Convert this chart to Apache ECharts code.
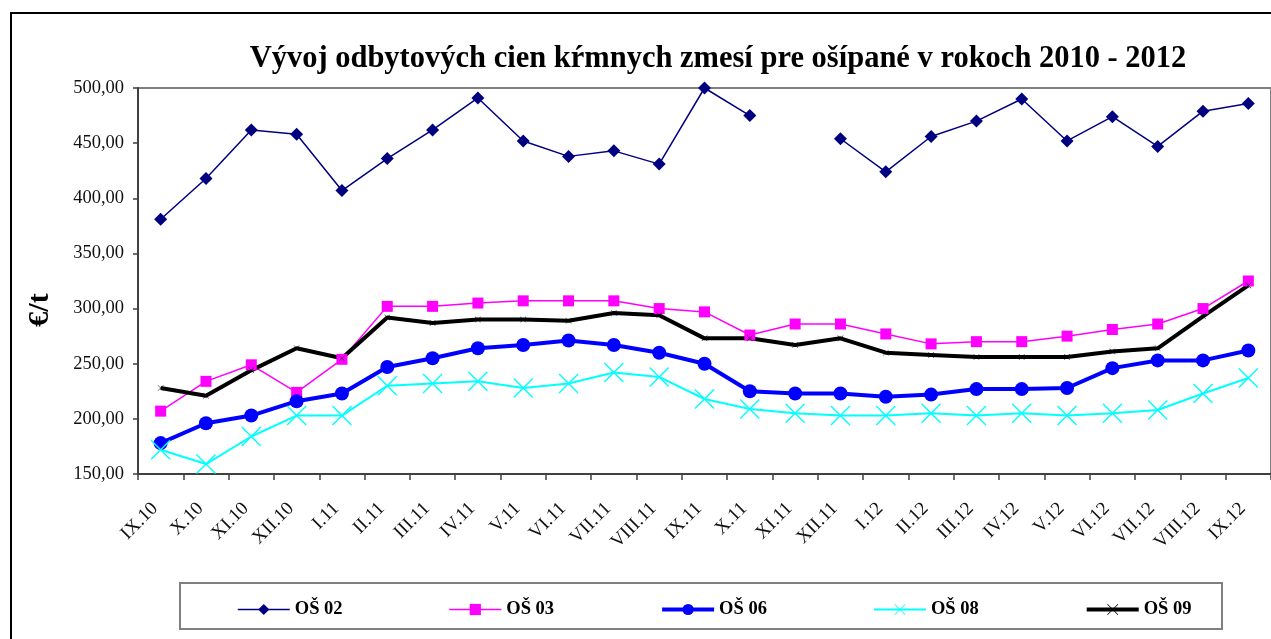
<!DOCTYPE html>
<html>
<head>
<meta charset="utf-8">
<script src="https://cdn.jsdelivr.net/npm/echarts@6/dist/echarts.min.js"></script>
<style>html,body{margin:0;padding:0;background:#fff;}#c{width:1271px;height:639px;}</style>
</head>
<body>
<div id="c"></div>
<script>
var categories = ['IX.10','X.10','XI.10','XII.10','I.11','II.11','III.11','IV.11','V.11','VI.11','VII.11','VIII.11','IX.11','X.11','XI.11','XII.11','I.12','II.12','III.12','IV.12','V.12','VI.12','VII.12','VIII.12','IX.12'];
var os02 = [381, 418, 462, 458, 407, 436, 462, 491, 452, 438, 443, 431, 500, 475, '-', 454, 424, 456, 470, 490, 452, 474, 447, 479, 486];
var os03 = [207, 234, 249, 224, 254, 302, 302, 305, 307, 307, 307, 300, 297, 276, 286, 286, 277, 268, 270, 270, 275, 281, 286, 300, 325];
var os06 = [178, 196, 203, 216, 223, 247, 255, 264, 267, 271, 267, 260, 250, 225, 223, 223, 220, 222, 227, 227, 228, 246, 253, 253, 262];
var os08 = [172, 159, 184, 203, 203, 230, 232, 234, 228, 232, 242, 238, 218, 209, 205, 203, 203, 205, 203, 205, 203, 205, 208, 223, 237];
var os09 = [228, 221, 244, 264, 255, 292, 287, 290, 290, 289, 296, 294, 273, 273, 267, 273, 260, 258, 256, 256, 256, 261, 264, 293, 321];
var seriesNames = ['OŠ 02','OŠ 03','OŠ 06','OŠ 08','OŠ 09'];
var yTicks = [150, 200, 250, 300, 350, 400, 450, 500];

var SERIF = '"Liberation Serif", "Times New Roman", serif';
var xPath = 'path://M0,1 L1,0 L10,9 L19,0 L20,1 L11,10 L20,19 L19,20 L10,11 L1,20 L0,19 L9,10 Z';
var lineWidths = [1.5, 1.5, 4, 2, 4];

var chart = echarts.init(document.getElementById('c'), null, {renderer: 'canvas'});
chart.setOption({
  animation: false,
  backgroundColor: '#fff',
  title: {
    text: 'Vývoj odbytových cien kŕmnych zmesí pre ošípané v rokoch 2010 - 2012',
    left: 713, top: 39, textAlign: 'center',
    textStyle: {fontFamily: SERIF, fontWeight: 'bold', fontSize: 30.5, color: '#000'}
  },
  graphic: [
    {type: 'rect', shape: {x: 11, y: 13, width: 1400, height: 800}, style: {fill: 'none', stroke: '#000', lineWidth: 2}, silent: true},
    {type: 'rect', shape: {x: 180, y: 583, width: 1042, height: 46}, style: {fill: 'none', stroke: '#808080', lineWidth: 2}, silent: true},
    {type: 'text', x: 40, y: 310, rotation: Math.PI / 2,
     style: {text: '€/t', fontFamily: SERIF, fontWeight: 'bold', fontSize: 30, fill: '#000', align: 'center', verticalAlign: 'middle'}}
  ],
  legend: {
    data: seriesNames.map(function (n, i) { return {name: n, lineStyle: {width: lineWidths[i]}}; }),
    left: 232, top: 595,
    itemWidth: 52, itemHeight: 14, itemGap: 106,
    textStyle: {fontFamily: SERIF, fontWeight: 'bold', fontSize: 18.5, color: '#000'}
  },
  grid: {left: 138, right: -4, top: 88, bottom: 165, show: true, borderColor: '#808080', borderWidth: 2, backgroundColor: 'transparent'},
  xAxis: {
    type: 'category', data: categories, boundaryGap: true,
    axisLine: {lineStyle: {color: '#404040', width: 2}},
    axisTick: {show: true, length: 6, alignWithLabel: false, lineStyle: {color: '#404040', width: 1.5}},
    axisLabel: {interval: 0, rotate: 45, margin: 26, padding: [0, 8, 0, 0], fontFamily: SERIF, fontSize: 19, color: '#111'},
    splitLine: {show: false}
  },
  yAxis: {
    type: 'value', min: yTicks[0], max: yTicks[yTicks.length - 1], interval: 50,
    axisLine: {show: true, lineStyle: {color: '#404040', width: 2}},
    axisTick: {show: true, length: 5, lineStyle: {color: '#404040', width: 1.5}},
    axisLabel: {margin: 14, fontFamily: SERIF, fontSize: 18.5, color: '#111',
      formatter: function (v) { return v.toFixed(2).replace('.', ','); }},
    splitLine: {show: false}
  },
  series: [
    {name: seriesNames[0], type: 'line', data: os02, symbol: 'diamond', symbolSize: 13,
     itemStyle: {color: '#000080'}, lineStyle: {color: '#000080', width: lineWidths[0]}},
    {name: seriesNames[1], type: 'line', data: os03, symbol: 'rect', symbolSize: 11,
     itemStyle: {color: '#FF00FF'}, lineStyle: {color: '#FF00FF', width: lineWidths[1]}},
    {name: seriesNames[2], type: 'line', data: os06, symbol: 'circle', symbolSize: 14,
     itemStyle: {color: '#0000FF'}, lineStyle: {color: '#0000FF', width: lineWidths[2]}},
    {name: seriesNames[3], type: 'line', data: os08, symbol: xPath, symbolSize: 20,
     itemStyle: {color: '#00FFFF'}, lineStyle: {color: '#00FFFF', width: lineWidths[3]}},
    {name: seriesNames[4], type: 'line', data: os09, symbol: xPath, symbolSize: 6,
     itemStyle: {color: '#000'}, lineStyle: {color: '#000', width: lineWidths[4]}}
  ]
});
</script>
</body>
</html>
